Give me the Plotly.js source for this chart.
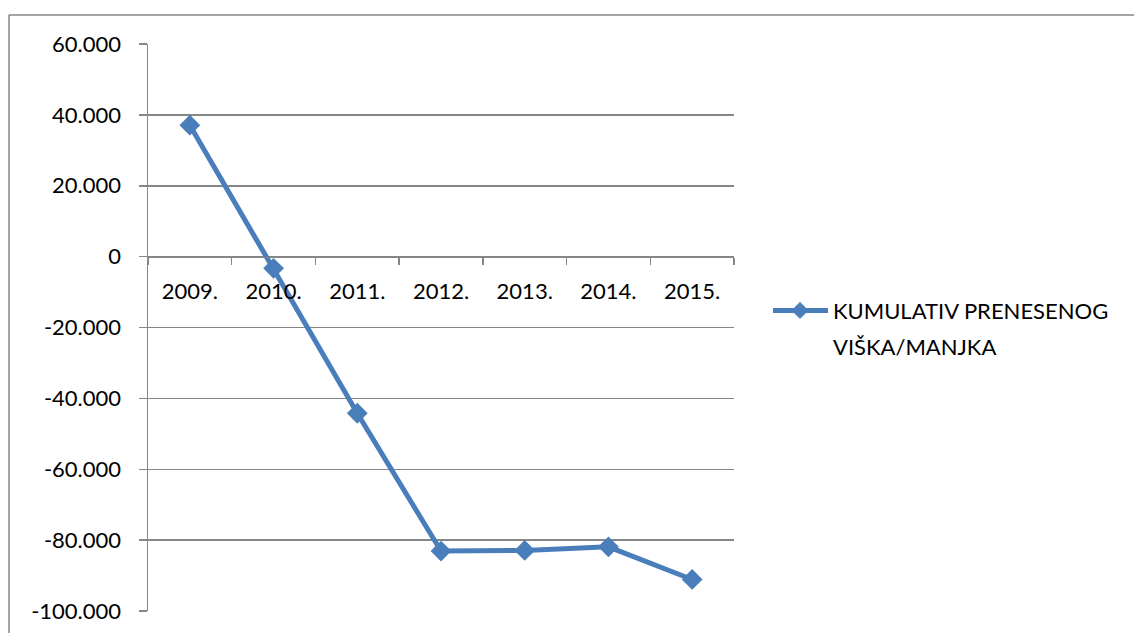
<!DOCTYPE html>
<html>
<head>
<meta charset="utf-8">
<script src="https://cdn.plot.ly/plotly-3.0.1.min.js"></script>
<style>
  html, body { margin: 0; padding: 0; background: #fff; }
  #chart { width: 1134px; height: 633px; }
</style>
</head>
<body>
<div id="chart"></div>
<script>
const categories = ['2009.', '2010.', '2011.', '2012.', '2013.', '2014.', '2015.'];
const values = [37100, -3300, -44200, -83100, -82900, -81900, -91100];
const seriesName = 'KUMULATIV PRENESENOG VIŠKA/MANJKA';
const legendLines = ['KUMULATIV PRENESENOG', 'VIŠKA/MANJKA'];
const yTickVals = [60000, 40000, 20000, 0, -20000, -40000, -60000, -80000, -100000];
const yTickText = ['60.000', '40.000', '20.000', '0', '-20.000', '-40.000', '-60.000', '-80.000', '-100.000'];

const W = 1134, H = 633;
const L = 148, R = 734, T = 43.5, B = 610.7;
const px = x => (x - L) / (R - L);
const py = y => (B - y) / (B - T);

const gray = '#868686';
const blue = '#4A7EBB';
const font = 'Lato, "Open Sans", sans-serif';

const trace = {
  type: 'scatter',
  mode: 'lines+markers',
  x: categories,
  y: values,
  name: seriesName,
  line: { color: blue, width: 5 },
  marker: { symbol: 'diamond', size: 16, color: blue },
  cliponaxis: false,
  showlegend: false
};

// legend key geometry (pixels)
const keyY = 310, keyX0 = 773, keyX1 = 828, keyMid = 800, dm = 8;
const diamondPath = `M${px(keyMid)},${py(keyY - dm)} L${px(keyMid + dm)},${py(keyY)} L${px(keyMid)},${py(keyY + dm)} L${px(keyMid - dm)},${py(keyY)} Z`;

const layout = {
  width: W, height: H,
  margin: { l: L, r: W - R, t: T, b: H - B, pad: 0 },
  paper_bgcolor: '#fff',
  plot_bgcolor: '#fff',
  font: { family: font, size: 22, color: '#000' },
  showlegend: false,
  xaxis: {
    type: 'category',
    range: [-0.5, 6.5],
    anchor: 'free',
    position: py(256.5),
    showgrid: false,
    zeroline: false,
    showline: true,
    linecolor: gray,
    linewidth: 1.5,
    ticks: 'outside',
    tickson: 'boundaries',
    ticklen: 7,
    tickcolor: gray,
    tickwidth: 1.5,
    ticklabelstandoff: 14,
    tickfont: { family: font, size: 22, color: '#000' },
    fixedrange: true
  },
  yaxis: {
    range: [-100000, 60000],
    tickvals: yTickVals,
    ticktext: yTickText,
    showgrid: true,
    gridcolor: gray,
    gridwidth: 1.5,
    zeroline: false,
    showline: true,
    linecolor: gray,
    linewidth: 1.5,
    ticks: 'outside',
    ticklen: 8,
    tickcolor: gray,
    tickwidth: 1.5,
    ticklabelstandoff: 13,
    tickfont: { family: font, size: 22, color: '#000' },
    fixedrange: true
  },
  shapes: [
    { type: 'line', xref: 'paper', yref: 'paper', x0: px(9), x1: px(1134), y0: py(14.5), y1: py(14.5), line: { color: gray, width: 1.5 } },
    { type: 'line', xref: 'paper', yref: 'paper', x0: px(9), x1: px(9), y0: py(14.5), y1: py(640), line: { color: gray, width: 1.5 } },
    { type: 'line', xref: 'paper', yref: 'paper', x0: px(keyX0), x1: px(keyX1), y0: py(keyY), y1: py(keyY), line: { color: blue, width: 5 } },
    { type: 'path', xref: 'paper', yref: 'paper', path: diamondPath, fillcolor: blue, line: { color: blue, width: 1 } }
  ],
  annotations: legendLines.map((t, i) => ({
    xref: 'paper', yref: 'paper',
    x: px(831), y: py(keyY + i * 36),
    xanchor: 'left', yanchor: 'middle',
    text: t, showarrow: false,
    font: { family: font, size: 22, color: '#000' }
  }))
};

Plotly.newPlot('chart', [trace], layout, { displayModeBar: false, staticPlot: true });
</script>
</body>
</html>
